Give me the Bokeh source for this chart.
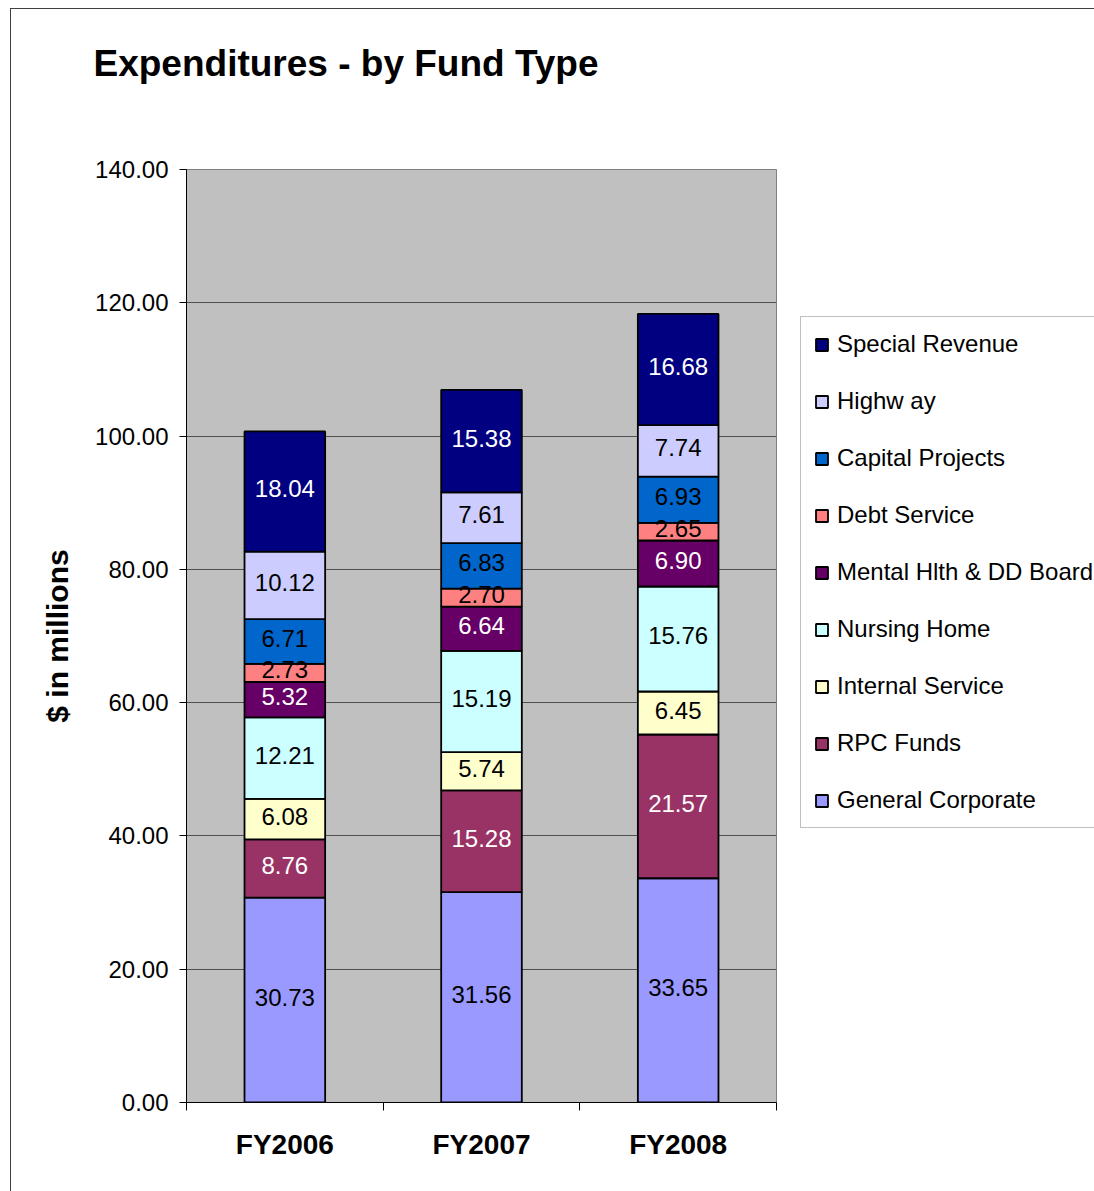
from bokeh.plotting import figure
from bokeh.models import (ColumnDataSource, FixedTicker, Legend, LegendItem,
                          NumeralTickFormatter, Title)
from bokeh.core.properties import value
from bokeh.embed import file_html
from bokeh.resources import INLINE

categories = ["FY2006", "FY2007", "FY2008"]
general_corporate = [30.73, 31.56, 33.65]
rpc_funds = [8.76, 15.28, 21.57]
internal_service = [6.08, 5.74, 6.45]
nursing_home = [12.21, 15.19, 15.76]
mental_health = [5.32, 6.64, 6.90]
debt_service = [2.73, 2.70, 2.65]
capital_projects = [6.71, 6.83, 6.93]
highway = [10.12, 7.61, 7.74]
special_revenue = [18.04, 15.38, 16.68]
legend_labels = ["General Corporate", "RPC Funds", "Internal Service", "Nursing Home",
                 "Mental Hlth & DD Board", "Debt Service", "Capital Projects", "Highw ay",
                 "Special Revenue"]
y_ticks = [0, 20, 40, 60, 80, 100, 120, 140]

series = [general_corporate, rpc_funds, internal_service, nursing_home, mental_health,
          debt_service, capital_projects, highway, special_revenue]
colors = ["#9999FF", "#993366", "#FFFFCC", "#CCFFFF", "#660066", "#FF8080",
          "#0066CC", "#CCCCFF", "#000080"]
label_colors = ["black", "white", "black", "black", "white", "black", "black",
                "black", "white"]

FONT = "Liberation Sans"
keys = ["s%d" % i for i in range(len(series))]
xs = [i + 0.5 for i in range(len(categories))]
data = {"x": xs}
for k, s in zip(keys, series):
    data[k] = s
src = ColumnDataSource(data)

p = figure(frame_width=590, frame_height=933, x_range=(0, 3), y_range=(0, 140),
           output_backend="svg", toolbar_location=None,
           min_border_left=175, min_border_right=318, min_border_top=160,
           min_border_bottom=89,
           margin=(8, 0, 0, 10),
           styles={"border-left": "1px solid #404040", "border-top": "1px solid #404040"})
p.background_fill_color = "#C0C0C0"
p.border_fill_color = "white"
p.outline_line_color = "#808080"
p.outline_line_width = 1

rends = p.vbar_stack(keys, x="x", width=0.41, source=src, fill_color=colors,
                     line_color="black", line_width=1.8)

# value labels
lx, ly, lt, lc = [], [], [], []
for j in range(len(categories)):
    base = 0.0
    for i, s in enumerate(series):
        v = s[j]
        lx.append(xs[j])
        ly.append(base + v / 2)
        lt.append("%.2f" % v)
        lc.append(label_colors[i])
        base += v
lsrc = ColumnDataSource(dict(x=lx, y=ly, t=lt, c=lc))
p.text(x="x", y="y", text="t", text_color="c", source=lsrc, text_align="center",
       text_baseline="middle", text_font=value(FONT), text_font_size="24px",
       y_offset=-3)

# axes
p.yaxis.ticker = FixedTicker(ticks=y_ticks)
p.yaxis.formatter = NumeralTickFormatter(format="0.00")
p.yaxis.major_label_text_font = FONT
p.yaxis.major_label_text_font_size = "24px"
p.yaxis.major_label_text_color = "black"
p.yaxis.major_tick_out = 7
p.yaxis.major_tick_in = 0
p.yaxis.minor_tick_out = 0
p.yaxis.minor_tick_in = 0
p.yaxis.major_label_standoff = 11
p.yaxis.axis_line_color = "black"
p.yaxis.major_tick_line_color = "black"
p.yaxis.axis_label = "$ in millions"
p.yaxis.axis_label_text_font = FONT
p.yaxis.axis_label_text_font_style = "bold"
p.yaxis.axis_label_text_font_size = "30px"
p.yaxis.axis_label_text_color = "black"
p.yaxis.axis_label_standoff = 18

p.xaxis.ticker = FixedTicker(ticks=xs, minor_ticks=[0, 1, 2, 3])
p.xaxis.major_label_overrides = {x: c for x, c in zip(xs, categories)}
p.xaxis.major_label_text_font = FONT
p.xaxis.major_label_text_font_style = "bold"
p.xaxis.major_label_text_font_size = "28px"
p.xaxis.major_label_text_color = "black"
p.xaxis.major_tick_out = 0
p.xaxis.major_tick_in = 0
p.xaxis.minor_tick_out = 8
p.xaxis.minor_tick_in = 0
p.xaxis.minor_tick_line_color = "black"
p.xaxis.major_label_standoff = 18
p.xaxis.axis_line_color = "black"

p.xgrid.visible = False
p.ygrid.ticker = FixedTicker(ticks=y_ticks[1:-1])
p.ygrid.grid_line_color = "#505050"
p.ygrid.grid_line_width = 1

# legend
items = [LegendItem(label=legend_labels[i], renderers=[rends[i]])
         for i in reversed(range(len(series)))]
legend = Legend(items=items, location=(24, 274))
legend.label_text_font = FONT
legend.label_text_font_size = "24px"
legend.label_text_color = "black"
legend.glyph_width = 15
legend.glyph_height = 15
legend.label_height = 28
legend.spacing = 29
legend.padding = 13
legend.label_standoff = 8
legend.border_line_color = "#808080"
legend.border_line_width = 1
legend.background_fill_color = "white"
legend.background_fill_alpha = 1
legend.margin = 0
p.add_layout(legend, "right")

# spacing between title and plot area (empty, invisible)
p.add_layout(Title(text=" ", text_font_size="1px", standoff=78), "above")

# title
p.title.text = "Expenditures - by Fund Type"
p.title.align = "left"
p.title.offset = -93
p.title.standoff = 10
p.title.text_font = FONT
p.title.text_font_style = "bold"
p.title.text_font_size = "37px"
p.title.text_color = "black"

open("out.html", "w").write(file_html(p, INLINE))
